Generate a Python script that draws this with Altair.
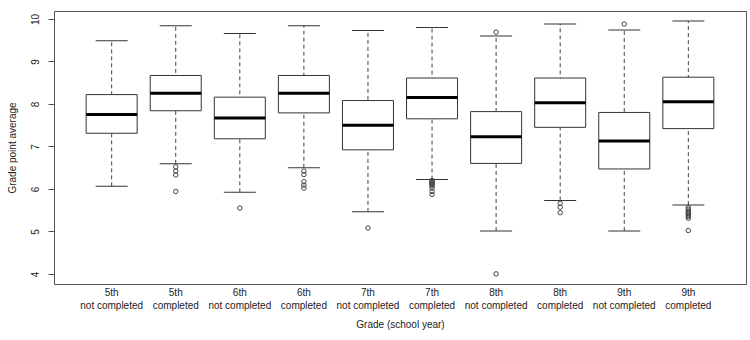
import altair as alt
import pandas as pd

grades = ["5th", "5th", "6th", "6th", "7th", "7th", "8th", "8th", "9th", "9th"]
status = ["not completed", "completed"] * 5
lower = [6.06, 6.59, 5.92, 6.50, 5.46, 6.22, 5.01, 5.73, 5.01, 5.62]
q1 = [7.31, 7.84, 7.18, 7.79, 6.92, 7.65, 6.60, 7.45, 6.47, 7.42]
median = [7.75, 8.25, 7.67, 8.25, 7.50, 8.15, 7.23, 8.03, 7.13, 8.05]
q3 = [8.22, 8.67, 8.16, 8.67, 8.08, 8.61, 7.82, 8.61, 7.80, 8.63]
upper = [9.49, 9.84, 9.66, 9.84, 9.73, 9.80, 9.60, 9.88, 9.74, 9.95]

out_idx = [1, 1, 1, 1,
           2,
           3, 3, 3, 3, 3,
           4,
           5, 5, 5, 5, 5, 5, 5, 5, 5,
           6, 6,
           7, 7, 7,
           8,
           9, 9, 9, 9, 9, 9, 9, 9, 9]
out_val = [6.52, 6.42, 6.33, 5.94,
           5.55,
           6.42, 6.34, 6.17, 6.09, 6.02,
           5.08,
           6.20, 6.17, 6.15, 6.12, 6.10, 6.07, 6.02, 5.94, 5.87,
           9.69, 4.00,
           5.66, 5.57, 5.44,
           9.88,
           5.56, 5.52, 5.48, 5.45, 5.42, 5.38, 5.35, 5.31, 5.02]

cats = [f"{g} {s}" for g, s in zip(grades, status)]
df = pd.DataFrame({"cat": cats, "lower": lower, "q1": q1, "median": median,
                   "q3": q3, "upper": upper})
dfo = pd.DataFrame({"cat": [cats[i] for i in out_idx], "val": out_val})

xenc = alt.X("cat:N", sort=cats,
             scale=alt.Scale(paddingInner=0, paddingOuter=0.4),
             axis=alt.Axis(title="Grade (school year)", labelAngle=0, ticks=False, domain=False,
                           labelExpr="[slice(datum.value, 0, indexof(datum.value, ' ')), slice(datum.value, indexof(datum.value, ' ') + 1)]",
                           labelPadding=3, labelLineHeight=13, labelBaseline="top",
                           titlePadding=9))
yscale = alt.Scale(domain=[3.762, 10.188], nice=False, zero=False)
yaxis = alt.Axis(title="Grade point average", values=[4, 5, 6, 7, 8, 9, 10], labelAngle=270,
                 labelAlign="center", labelBaseline="bottom", tickSize=6, labelPadding=8,
                 domain=False, grid=False, tickColor="#555", titlePadding=13)

base = alt.Chart(df)
whisk = base.mark_rule(color="#444", strokeDash=[4, 3], strokeWidth=1, opacity=1).encode(
    x=xenc, y=alt.Y("lower:Q", scale=yscale, axis=yaxis), y2="upper:Q")
capl = base.mark_tick(color="#333", size=32, thickness=1, orient="horizontal", opacity=1).encode(
    x=xenc, y=alt.Y("lower:Q", scale=yscale))
capu = base.mark_tick(color="#333", size=32, thickness=1, orient="horizontal", opacity=1).encode(
    x=xenc, y=alt.Y("upper:Q", scale=yscale))
box = base.mark_bar(fill="white", stroke="#333", strokeWidth=1, size=51, opacity=1).encode(
    x=xenc, y=alt.Y("q1:Q", scale=yscale), y2="q3:Q")
med = base.mark_tick(color="black", size=51, thickness=3, orient="horizontal", opacity=1).encode(
    x=xenc, y=alt.Y("median:Q", scale=yscale))
pts = alt.Chart(dfo).mark_point(shape="circle", filled=False, size=20, strokeWidth=1,
                                color="#444", opacity=1).encode(
    x=xenc, y=alt.Y("val:Q", scale=yscale))

chart = alt.layer(whisk, capl, capu, box, med, pts).properties(
    width=692, height=273, autosize=alt.AutoSizeParams(type="none"),
    padding={"left": 54, "top": 11, "right": 4, "bottom": 56},
    background="white"
).configure_view(stroke="#555", strokeWidth=1).configure_axis(
    labelFont="Liberation Sans", titleFont="Liberation Sans", labelFontSize=10,
    titleFontSize=10, labelColor="#222", titleColor="#222", titleFontWeight="normal"
)

chart.save("out.html", embed_options={"renderer": "svg", "actions": False})
